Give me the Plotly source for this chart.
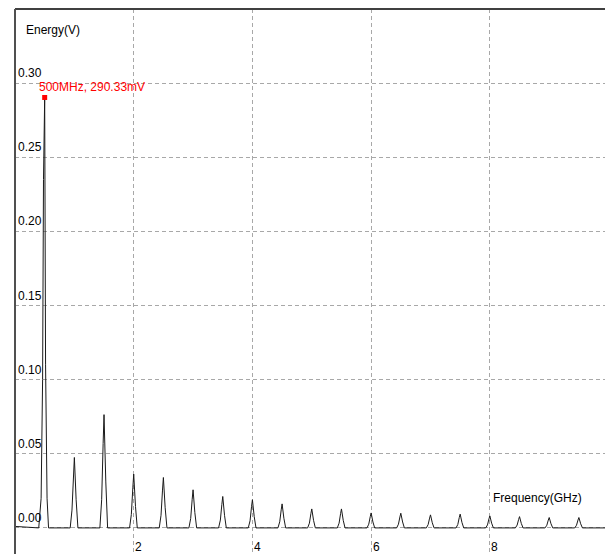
import plotly.graph_objects as go

# Spectrum trace: frequency (GHz) and energy (V), one row per harmonic
spectrum_freq_ghz = [
    0.00, 0.40,
    0.40, 0.44, 0.465, 0.48, 0.50, 0.515, 0.54, 0.565,
    0.93, 0.96, 0.985, 1.00, 1.03, 1.06,
    1.43, 1.46, 1.485, 1.50, 1.53, 1.56,
    1.93, 1.96, 1.985, 2.00, 2.03, 2.06,
    2.43, 2.46, 2.485, 2.50, 2.53, 2.56,
    2.93, 2.96, 2.985, 3.00, 3.03, 3.06,
    3.43, 3.46, 3.485, 3.50, 3.53, 3.56,
    3.93, 3.96, 3.985, 4.00, 4.03, 4.06,
    4.43, 4.46, 4.485, 4.50, 4.53, 4.56,
    4.93, 4.96, 4.985, 5.00, 5.03, 5.06,
    5.43, 5.46, 5.485, 5.50, 5.53, 5.56,
    5.93, 5.96, 5.985, 6.00, 6.03, 6.06,
    6.43, 6.46, 6.485, 6.50, 6.53, 6.56,
    6.93, 6.96, 6.985, 7.00, 7.03, 7.06,
    7.43, 7.46, 7.485, 7.50, 7.53, 7.56,
    7.93, 7.96, 7.985, 8.00, 8.03, 8.06,
    8.43, 8.46, 8.485, 8.50, 8.53, 8.56,
    8.93, 8.96, 8.985, 9.00, 9.03, 9.06,
    9.43, 9.46, 9.485, 9.50, 9.53, 9.56,
    9.94,
]
spectrum_energy_v = [
    0.001, 0.0,
    0.0, 0.020, 0.100, 0.235, 0.29033, 0.110, 0.020, 0.0,
    0.0, 0.0120, 0.0360, 0.0475, 0.0190, 0.0,
    0.0, 0.0190, 0.0570, 0.0764, 0.0310, 0.0,
    0.0, 0.0090, 0.0270, 0.0363, 0.0145, 0.0,
    0.0, 0.0085, 0.0255, 0.0340, 0.0136, 0.0,
    0.0, 0.0064, 0.0193, 0.0257, 0.0103, 0.0,
    0.0, 0.0053, 0.0159, 0.0212, 0.0085, 0.0,
    0.0, 0.0048, 0.0143, 0.0190, 0.0076, 0.0,
    0.0, 0.0041, 0.0122, 0.0162, 0.0065, 0.0,
    0.0, 0.0032, 0.0096, 0.0128, 0.0051, 0.0,
    0.0, 0.0032, 0.0096, 0.0128, 0.0051, 0.0,
    0.0, 0.0025, 0.0076, 0.0101, 0.0040, 0.0,
    0.0, 0.0025, 0.0074, 0.0099, 0.0040, 0.0,
    0.0, 0.0022, 0.0066, 0.0088, 0.0035, 0.0,
    0.0, 0.0023, 0.0070, 0.0093, 0.0037, 0.0,
    0.0, 0.0020, 0.0061, 0.0081, 0.0032, 0.0,
    0.0, 0.0019, 0.0057, 0.0076, 0.0030, 0.0,
    0.0, 0.0018, 0.0053, 0.0070, 0.0028, 0.0,
    0.0, 0.0018, 0.0053, 0.0070, 0.0028, 0.0,
    0.0,
]

# Marked fundamental
peak_freq_ghz = 0.5
peak_energy_v = 0.29033

# Axis ticks
x_tick_vals = [2, 4, 6, 8]
x_tick_text = ["2", "4", "6", "8"]
y_tick_vals = [0.00, 0.05, 0.10, 0.15, 0.20, 0.25, 0.30]
y_tick_text = ["0.00", "0.05", "0.10", "0.15", "0.20", "0.25", "0.30"]

FONT = "Liberation Sans, Arial, sans-serif"
FSIZE = 12
GRID = "#a8a8a8"

fig = go.Figure()
fig.add_trace(go.Scatter(
    x=spectrum_freq_ghz, y=spectrum_energy_v, mode="lines",
    line=dict(color="#1a1a1a", width=1), hoverinfo="skip", showlegend=False,
))
fig.add_trace(go.Scatter(
    x=[peak_freq_ghz], y=[peak_energy_v], mode="markers",
    marker=dict(symbol="square", size=5, color="#ff0000"),
    hoverinfo="skip", showlegend=False,
))

annotations = []
for v, t in zip(y_tick_vals, y_tick_text):
    annotations.append(dict(
        x=0, xref="paper", y=v, yref="y", text=t, showarrow=False,
        xanchor="left", yanchor="bottom", xshift=1, yshift=1,
        font=dict(family=FONT, size=FSIZE, color="#000000"),
    ))
for v, t in zip(x_tick_vals, x_tick_text):
    annotations.append(dict(
        x=v, xref="x", y=0, yref="paper", text=t, showarrow=False,
        xanchor="center", yanchor="bottom", xshift=5, yshift=-2,
        font=dict(family=FONT, size=FSIZE, color="#000000"),
    ))
annotations.append(dict(
    x=0, xref="paper", y=0.3358, yref="y", text="Energy(V)", showarrow=False,
    xanchor="left", yanchor="middle", xshift=9,
    font=dict(family=FONT, size=FSIZE, color="#000000"),
))
annotations.append(dict(
    x=8, xref="x", y=0.0205, yref="y", text="Frequency(GHz)", showarrow=False,
    xanchor="left", yanchor="middle", xshift=1,
    font=dict(family=FONT, size=FSIZE, color="#000000"),
))
annotations.append(dict(
    x=peak_freq_ghz, xref="x", y=peak_energy_v, yref="y",
    text=f"{peak_freq_ghz * 1000:.0f}MHz, {peak_energy_v * 1000:.2f}mV",
    showarrow=False, xanchor="left", yanchor="bottom", xshift=-8, yshift=1,
    font=dict(family=FONT, size=FSIZE, color="#ff0000"),
))

fig.update_layout(
    width=605, height=554,
    margin=dict(l=15, r=0, t=9, b=0, pad=0),
    paper_bgcolor="#ffffff", plot_bgcolor="#ffffff",
    xaxis=dict(
        range=[0, 9.94], tickvals=[0] + x_tick_vals, showticklabels=False,
        showgrid=True, gridcolor=GRID, gridwidth=1, griddash="4px,3px",
        zeroline=False, showline=False, ticks="",
    ),
    yaxis=dict(
        range=[-0.0176, 0.35], tickvals=y_tick_vals, showticklabels=False,
        showgrid=True, gridcolor=GRID, gridwidth=1, griddash="4px,3px",
        zeroline=False, showline=False, ticks="",
    ),
    annotations=annotations,
    shapes=[
        dict(type="line", xref="paper", yref="paper", x0=0, x1=1, y0=1, y1=1,
             line=dict(color="#404040", width=2)),
        dict(type="line", xref="paper", yref="paper", x0=0, x1=0, y0=0, y1=1,
             line=dict(color="#505050", width=2)),
    ],
)

fig.write_html("out.html")
